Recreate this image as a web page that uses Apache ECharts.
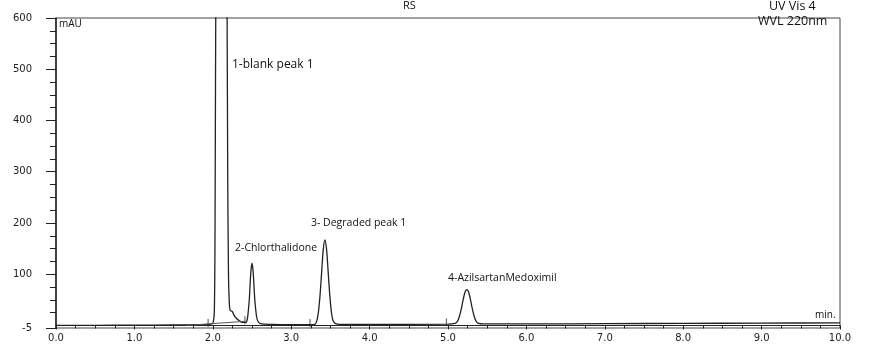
<!DOCTYPE html>
<html><head><meta charset="utf-8">
<script src="https://cdn.jsdelivr.net/npm/echarts@6/dist/echarts.min.js"></script>
<style>html,body{margin:0;padding:0;background:#fff}#c{width:870px;height:358px}</style>
</head><body><div id="c"></div>
<script>
// Chromatogram trace (time in min, signal in mAU)
const traceTime = [0.00,0.50,1.00,1.50,1.80,1.95,2.00,2.02,2.03,2.04,2.08,2.12,2.16,2.18,2.19,2.20,2.21,2.22,2.24,2.25,2.27,2.30,2.34,2.38,2.42,
  2.44,2.46,2.47,2.48,2.49,2.50,2.51,2.52,2.53,2.54,2.56,2.58,2.62,2.75,3.00,3.25,
  3.30,3.33,3.35,3.37,3.39,3.41,3.43,3.45,3.47,3.49,3.51,3.53,3.56,3.62,4.00,
  5.00,5.09,5.12,5.14,5.16,5.18,5.20,5.22,5.24,5.26,5.28,5.30,5.32,5.34,5.36,5.39,5.45,6.00,7.00,8.00,9.00,10.00];
const traceSignal = [0,0.3,0.6,1,1.5,2,4,30,250,700,1500,1600,1200,700,300,100,45,30,28,27,20,14,9,6,6,
  12,40,62,92,112,121,112,92,64,42,16,7,3,2,1.5,1.5,
  2,11,30,63,108,150,167,150,108,63,30,11,4,2,2,
  2.5,4,8,15,26,40,55,66,70,66,55,40,26,15,8,4,3,3,3.5,4,4.5,5];
// integration baseline under peak 1
const skimTime = [1.66, 2.41];
const skimSignal = [0, 8];
// integration start/end markers
const markTime = [1.94, 2.41, 3.24, 4.98];
const markSignal = [5, 10, 5, 6];
// axis ticks
const yMajor = [-5,100,200,300,400,500,600];
const yMinor = [25,50,75,125,150,175,225,250,275,325,350,375,425,450,475,525,550,575];

const zip = (a,b) => a.map((v,i)=>[v,b[i]]);
const chart = echarts.init(document.getElementById('c'));
const axisColor = '#222';
const txt = (x,y,s,size,font) => ({type:'text',left:x,top:y,style:{text:s,fill:'#111',font:size+'px '+(font||'"Open Sans"')}});
chart.setOption({
  animation:false,
  grid:{left:56,right:30,top:18,bottom:30,show:true,borderColor:'#444',borderWidth:1},
  xAxis:{type:'value',min:0,max:10,interval:1,
    axisLine:{lineStyle:{color:axisColor,width:1}},
    axisTick:{show:true,length:4,lineStyle:{color:axisColor}},
    minorTick:{show:true,splitNumber:4,length:3,lineStyle:{color:axisColor}},
    axisLabel:{formatter:v=>v.toFixed(1),color:'#222',fontFamily:'DejaVu Sans',fontSize:10,margin:5},
    splitLine:{show:false}},
  yAxis:[{type:'value',min:-5,max:600,
    axisLine:{show:true,lineStyle:{color:axisColor,width:1.5}},
    axisTick:{show:true,length:10,customValues:yMajor,lineStyle:{color:axisColor}},
    axisLabel:{customValues:yMajor,color:'#222',fontFamily:'DejaVu Sans',fontSize:10,margin:24},
    splitLine:{show:false}},
   {type:'value',min:-5,max:600,position:'left',
    axisLine:{show:false},
    axisTick:{show:true,length:6,customValues:yMinor,lineStyle:{color:axisColor}},
    axisLabel:{show:false},splitLine:{show:false}}],
  series:[
    {type:'line',data:zip(traceTime,traceSignal),showSymbol:false,smooth:0.3,clip:true,
     lineStyle:{color:'#222',width:1.3}},
    {type:'line',data:zip(skimTime,skimSignal),showSymbol:false,lineStyle:{color:'#555',width:1}},
    {type:'scatter',data:zip(markTime,markSignal),symbol:'rect',symbolSize:[1.2,8],itemStyle:{color:'#444'}}
  ],
  graphic:[
    txt(403,0,'RS',11),
    txt(769,0,'UV Vis 4',12.5),
    txt(758,15,'WVL 220nm',12.5),
    txt(59,19,'mAU',10),
    txt(815,310,'min.',10),
    txt(232,59,'1-blank peak 1',12),
    txt(235,243,'2-Chlorthalidone',10.5),
    txt(311,218,'3- Degraded peak 1',10.5),
    txt(448,273,'4-AzilsartanMedoximil',10.5)
  ]
});
</script></body></html>
